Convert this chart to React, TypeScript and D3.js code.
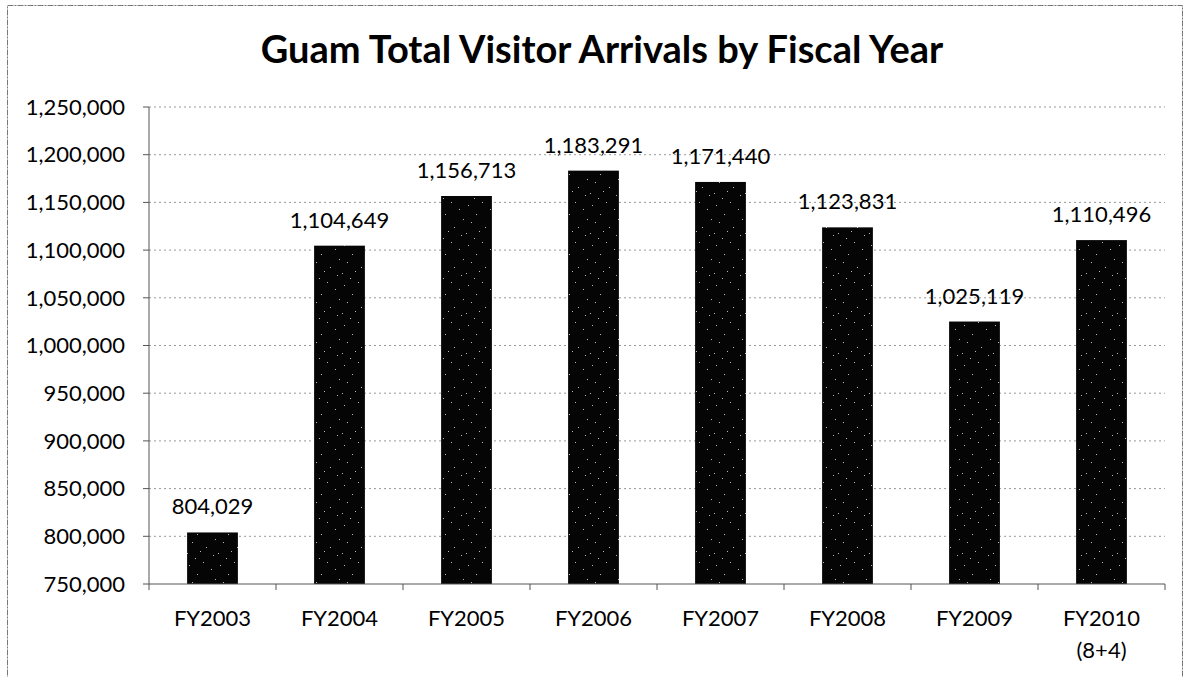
import React from "react";
import * as d3 from "d3";

const categories = ["FY2003", "FY2004", "FY2005", "FY2006", "FY2007", "FY2008", "FY2009", "FY2010|(8+4)"];
const values = [804029, 1104649, 1156713, 1183291, 1171440, 1123831, 1025119, 1110496];
const yTicks = [750000, 800000, 850000, 900000, 950000, 1000000, 1050000, 1100000, 1150000, 1200000, 1250000];
const title = "Guam Total Visitor Arrivals by Fiscal Year";

const W = 1186, H = 677;
const left = 149, right = 1165, top = 107, bottom = 584;
const FONT = "Lato, 'Open Sans', sans-serif";

export default function App() {
  const x = d3.scaleBand<string>().domain(categories).range([left, right]).paddingInner(0.6).paddingOuter(0.3);
  const xb = d3.scaleBand<string>().domain(categories).range([left, right]);
  const y = d3.scaleLinear().domain([750000, 1250000]).range([bottom, top]);
  const fmt = d3.format(",");

  const dots: [number, number][] = [[3, 5], [17, 2], [11, 14], [25, 9], [6, 22], [20, 27], [29, 19], [14, 31], [1, 33], [27, 35], [9, 38]];

  return (
    <svg width={W} height={H} style={{ position: "absolute", left: 0, top: 0, background: "#fff" }}>
      <defs>
        <pattern id="speck" width={31} height={40} patternUnits="userSpaceOnUse">
          <rect width={31} height={40} fill="#050505" />
          {dots.map(([a, b], i) => (
            <rect key={i} x={a} y={b} width={1} height={1} fill="#bbb" />
          ))}
        </pattern>
      </defs>
      <rect x={7.5} y={5.5} width={1175} height={690} fill="none" stroke="#777" strokeWidth={1} strokeDasharray="6 1 2 1" />
      <text x={602} y={63} textAnchor="middle" fontFamily={FONT} fontWeight="bold" fontSize={38} fill="#000">
        {title}
      </text>
      {yTicks.map((t) => (
        <g key={t}>
          {t !== 750000 && (
            <line x1={left} x2={right} y1={y(t)} y2={y(t)} stroke="#999" strokeWidth={1} strokeDasharray="2 3" />
          )}
          <line x1={left - 6} x2={left} y1={y(t)} y2={y(t)} stroke="#555" strokeWidth={1} />
          <text x={left - 24} y={y(t)} dy="0.35em" textAnchor="end" fontFamily={FONT} fontSize={22} fill="#000">
            {fmt(t)}
          </text>
        </g>
      ))}
      {categories.map((c, i) => (
        <g key={c}>
          <rect x={x(c)} y={y(values[i])} width={x.bandwidth()} height={bottom - y(values[i])} fill="url(#speck)" />
          <text x={x(c)! + x.bandwidth() / 2} y={y(values[i]) - 18} textAnchor="middle" fontFamily={FONT} fontSize={22} fill="#000">
            {fmt(values[i])}
          </text>
          {c.split("|").map((line, j) => (
            <text key={j} x={xb(c)! + xb.bandwidth() / 2} y={626 + j * 32} textAnchor="middle" fontFamily={FONT} fontSize={22} fill="#000">
              {line}
            </text>
          ))}
        </g>
      ))}
      {categories.concat(["end"]).map((c, i) => {
        const px = left + i * xb.step();
        return <line key={c} x1={px} x2={px} y1={bottom} y2={bottom + 6} stroke="#555" strokeWidth={1} />;
      })}
      <line x1={left} x2={left} y1={top} y2={bottom} stroke="#555" strokeWidth={1} />
      <line x1={left} x2={right} y1={bottom} y2={bottom} stroke="#555" strokeWidth={1} />
    </svg>
  );
}
